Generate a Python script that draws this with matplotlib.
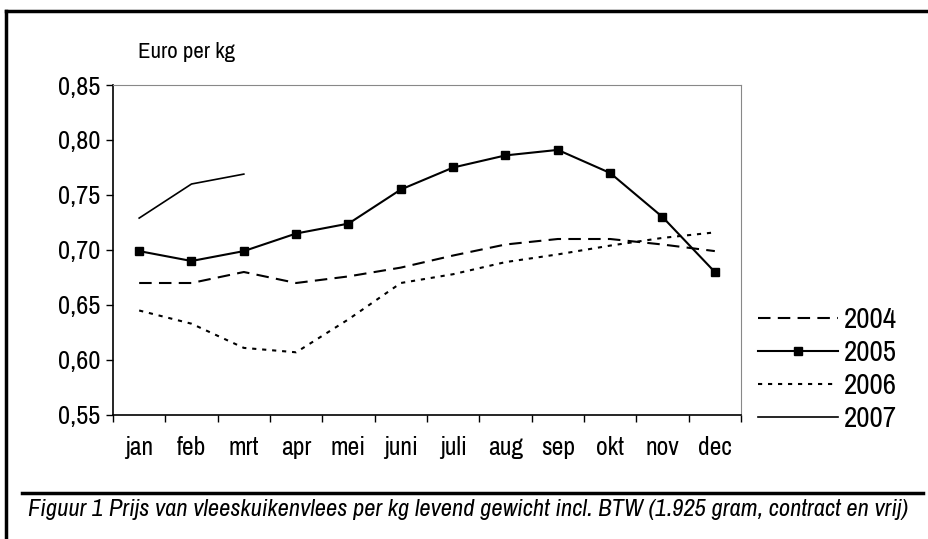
import matplotlib
matplotlib.use("Agg")
import matplotlib.pyplot as plt
from matplotlib.lines import Line2D

plt.rcParams['font.family'] = ['Archivo Narrow', 'DejaVu Sans']

# data
months = ['jan', 'feb', 'mrt', 'apr', 'mei', 'juni', 'juli', 'aug', 'sep', 'okt', 'nov', 'dec']
p2004 = [0.670, 0.670, 0.680, 0.670, 0.676, 0.684, 0.695, 0.705, 0.710, 0.710, 0.705, 0.699]
p2005 = [0.699, 0.690, 0.699, 0.715, 0.724, 0.755, 0.775, 0.786, 0.791, 0.770, 0.730, 0.680]
p2006 = [0.645, 0.633, 0.611, 0.607, 0.637, 0.670, 0.678, 0.689, 0.696, 0.704, 0.711, 0.716]
p2007 = [0.729, 0.760, 0.769]
yticks = [0.55, 0.60, 0.65, 0.70, 0.75, 0.80, 0.85]

fig = plt.figure(figsize=(9.29, 5.39), dpi=100)
ax = fig.add_axes([113/929, 1-415/539, (741-113)/929, (415-85)/539])

x = list(range(len(months)))
ax.plot(x, p2004, color='black', lw=1.5, dashes=(6, 3.5), label='2004')
ax.plot(x, p2005, color='black', lw=1.5, marker='s', ms=6, label='2005')
ax.plot(x, p2006, color='black', lw=1.5, dashes=(2, 2.8), label='2006')
ax.plot(x[:len(p2007)], p2007, color='black', lw=1.2, label='2007')

ax.set_xlim(-0.5, len(months) - 0.5)
ax.set_ylim(0.55, 0.85)
ax.set_yticks(yticks)
ax.set_yticklabels([('%.2f' % v).replace('.', ',') for v in yticks], fontsize=19)
ax.set_xticks([i - 0.5 for i in range(len(months) + 1)])
ax.set_xticklabels([])
ax.set_xticks(x, minor=True)
ax.set_xticklabels(months, minor=True, fontsize=18.5)
ax.tick_params(axis='x', which='minor', length=0, pad=15)
ax.tick_params(axis='x', which='major', length=5, direction='out', width=1)
ax.tick_params(axis='y', length=5, direction='out', width=1, pad=4)

for s in ['top', 'right']:
    ax.spines[s].set_color('#888888')
for s in ['left', 'bottom']:
    ax.spines[s].set_color('black')
    ax.spines[s].set_linewidth(1.2)

fig.text(138/929, 1-52/539, 'Euro per kg', fontsize=16.5, va='center', ha='left')

leg = ax.legend(loc='center left', bbox_to_anchor=(743/929, 1-369/539),
                bbox_transform=fig.transFigure, frameon=False, fontsize=21,
                handlelength=2.75, handletextpad=0.2, labelspacing=0.2,
                borderpad=0)

# outer frame and caption rule
fig.add_artist(Line2D([6/929, 6/929], [0, 1-11/539], color='black', lw=2.5,
                      transform=fig.transFigure))
fig.add_artist(Line2D([6/929, 1], [1-11/539, 1-11/539], color='black', lw=2.5,
                      transform=fig.transFigure))
fig.add_artist(Line2D([22/929, 923/929], [1-493/539, 1-493/539], color='black', lw=2.5,
                      transform=fig.transFigure))
fig.text(28/929, 1-509/539,
         'Figuur 1 Prijs van vleeskuikenvlees per kg levend gewicht incl. BTW (1.925 gram, contract en vrij)',
         fontsize=17.7, style='italic', va='center', ha='left')

fig.savefig('out.png', dpi=100)
